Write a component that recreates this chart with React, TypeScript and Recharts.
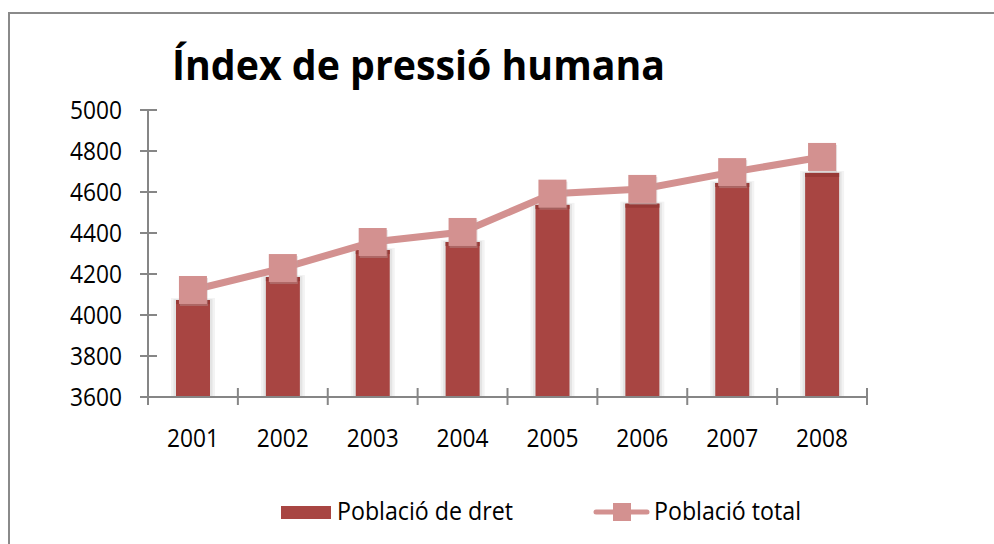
import React from "react";
import { ComposedChart, Bar, Line, XAxis, YAxis } from "recharts";

const years = ["2001", "2002", "2003", "2004", "2005", "2006", "2007", "2008"];
const poblacioDret = [4073, 4185, 4317, 4356, 4537, 4543, 4644, 4693];
const poblacioTotal = [4122, 4229, 4356, 4405, 4592, 4615, 4697, 4771];
const yTicks = [3600, 3800, 4000, 4200, 4400, 4600, 4800, 5000];

const data = years.map((y, i) => ({ year: y, dret: poblacioDret[i], total: poblacioTotal[i] }));

const FONT = "'Open Sans', 'DejaVu Sans', sans-serif";
const AXIS = "#868686";
const BAR = "#A84542";
const LINE = "#D39190";
const HALF_BAND = (994 - 148 - 127) / 8 / 2;

const YTick = (props: any) => {
  const { x, y, payload } = props;
  return (
    <g>
      <line x1={x - 8} x2={x + 9} y1={y} y2={y} stroke={AXIS} strokeWidth={2} />
      <text x={x - 26} y={y + 8.5} textAnchor="end" fontSize={25} fontFamily={FONT} fill="#000" textLength={52} lengthAdjust="spacingAndGlyphs">
        {payload.value}
      </text>
    </g>
  );
};

const XTick = (props: any) => {
  const { x, y, payload, index, visibleTicksCount } = props;
  return (
    <g>
      <line x1={x - HALF_BAND} x2={x - HALF_BAND} y1={y - 9} y2={y + 8} stroke={AXIS} strokeWidth={2} />
      {index === visibleTicksCount - 1 && (
        <line x1={x + HALF_BAND} x2={x + HALF_BAND} y1={y - 9} y2={y + 8} stroke={AXIS} strokeWidth={2} />
      )}
      <text x={x} y={y + 50} textAnchor="middle" fontSize={25} fontFamily={FONT} fill="#000" textLength={52} lengthAdjust="spacingAndGlyphs">
        {payload.value}
      </text>
    </g>
  );
};

const BarShape = (p: any) => {
  const { x, y, width, height } = p;
  return (
    <g>
      <rect x={x - 5} y={y - 2} width={width + 10} height={height + 2} fill="#f3f3f3" />
      <rect x={x - 2.5} y={y - 1} width={width + 5} height={height + 1} fill="#e4e4e4" />
      <rect x={x} y={y} width={width} height={height} fill={BAR} />
      <rect x={x} y={y} width={width} height={4} fill="#983a37" />
    </g>
  );
};

const SquareDot = (p: any) => {
  const { cx, cy } = p;
  if (cx == null || cy == null) return null;
  return (
    <g>
      <rect x={cx - 13} y={cy - 12} width={28} height={28} fill="#b9a5a5" opacity={0.35} />
      <rect x={cx - 14} y={cy - 14} width={28} height={28} fill={LINE} />
    </g>
  );
};

export default function App() {
  return (
    <div style={{ position: "absolute", left: 0, top: 0, width: 994, height: 544, background: "#fff", overflow: "hidden" }}>
      <div style={{ position: "absolute", left: 8, top: 12, width: 1000, height: 600, borderLeft: "2px solid #8a8a8a", borderTop: "2px solid #8a8a8a" }} />
      <div style={{ position: "absolute", left: 0, top: 0 }}>
        <ComposedChart width={994} height={544} data={data} margin={{ top: 110, right: 127, left: 0, bottom: 0 }}>
          <XAxis
            dataKey="year"
            height={147}
            tickSize={0}
            tickMargin={0}
            tick={<XTick />}
            axisLine={{ stroke: AXIS, strokeWidth: 2 }}
            tickLine={false}
            interval={0}
          />
          <YAxis
            width={148}
            domain={[3600, 5000]}
            ticks={yTicks}
            tickSize={0}
            tickMargin={0}
            tick={<YTick />}
            axisLine={{ stroke: AXIS, strokeWidth: 2 }}
            tickLine={false}
            allowDataOverflow
            interval={0}
          />
          <Bar dataKey="dret" name="Població de dret" barSize={34} shape={<BarShape />} isAnimationActive={false} />
          <Line
            dataKey="total"
            name="Població total"
            stroke={LINE}
            strokeWidth={7}
            dot={<SquareDot />}
            activeDot={false}
            isAnimationActive={false}
          />
        </ComposedChart>
      </div>
      <svg width={994} height={544} style={{ position: "absolute", left: 0, top: 0, pointerEvents: "none" }}>
        <text x={172} y={80} fontSize={41} fontWeight={700} fontFamily={FONT} fill="#000" textLength={493} lengthAdjust="spacingAndGlyphs">
          Índex de pressió humana
        </text>
        <rect x={281} y={506} width={50} height={13} fill={BAR} />
        <text x={337} y={520} fontSize={25} fontFamily={FONT} fill="#000" textLength={176} lengthAdjust="spacingAndGlyphs">
          Població de dret
        </text>
        <line x1={596} x2={647} y1={512} y2={512} stroke={LINE} strokeWidth={5} strokeLinecap="round" />
        <rect x={613} y={503} width={18} height={18} fill={LINE} />
        <text x={654} y={520} fontSize={25} fontFamily={FONT} fill="#000" textLength={147} lengthAdjust="spacingAndGlyphs">
          Població total
        </text>
      </svg>
    </div>
  );
}
